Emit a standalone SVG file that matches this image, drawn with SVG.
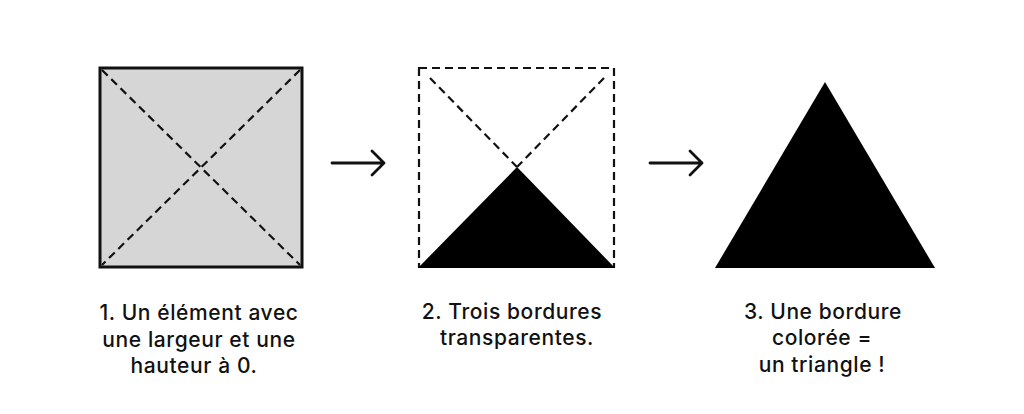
<svg xmlns="http://www.w3.org/2000/svg" width="1024" height="414" viewBox="0 0 1024 414">
<style>
.lbl{font-family:Inter,"Noto Sans",sans-serif;font-size:21px;font-weight:500;letter-spacing:0.6px;fill:#111;text-anchor:middle}
.dash{fill:none;stroke:#111;stroke-width:2.2;stroke-dasharray:8 5}
.arr{fill:none;stroke:#111;stroke-width:2.8;stroke-linecap:round;stroke-linejoin:round}
</style>
<rect width="1024" height="414" fill="#fff"/>
<g id="step1">
<rect x="100" y="68" width="202" height="199" fill="#d6d6d6" stroke="#111" stroke-width="3"/>
<line class="dash" x1="102" y1="70" x2="300" y2="265"/>
<line class="dash" x1="300" y1="70" x2="102" y2="265"/>
<text class="lbl" x="199" y="320">1. Un élément avec</text>
<text class="lbl" x="199" y="347">une largeur et une</text>
<text class="lbl" x="194" y="373">hauteur à 0.</text>
</g>
<g id="step2">
<rect class="dash" x="419" y="68" width="195" height="199"/>
<line class="dash" x1="430" y1="78" x2="517" y2="167"/>
<line class="dash" x1="604" y1="78" x2="517" y2="167"/>
<polygon points="418,268 517,167 615,268" fill="#000"/>
<text class="lbl" x="512" y="319">2. Trois bordures</text>
<text class="lbl" x="517" y="345">transparentes.</text>
</g>
<g id="step3">
<polygon points="825,82 715,268 935,268" fill="#000"/>
<text class="lbl" x="823" y="319">3. Une bordure</text>
<text class="lbl" x="822" y="345">colorée =</text>
<text class="lbl" x="822" y="372">un triangle !</text>
</g>
<g id="connectors">
<path class="arr" d="M332,163 H384 M372,151 L384,163 L372,175"/>
<path class="arr" d="M650,163 H702 M690,151 L702,163 L690,175"/>
</g>
</svg>
